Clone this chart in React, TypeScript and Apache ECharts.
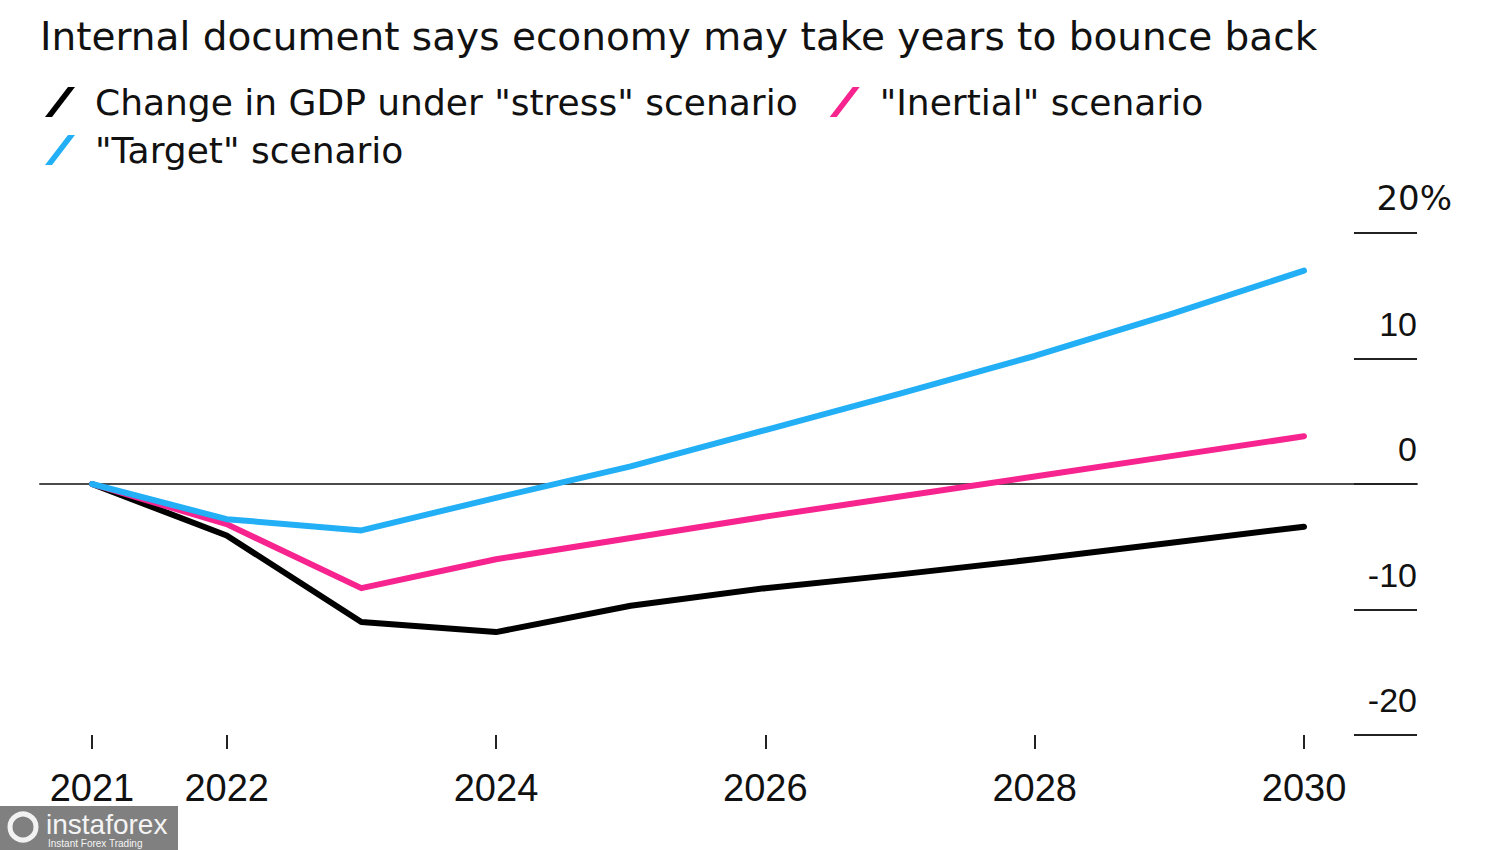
import React, { useEffect, useRef } from "react";
import * as echarts from "echarts";

const title = "Internal document says economy may take years to bounce back";
const years = [2021, 2022, 2023, 2024, 2025, 2026, 2027, 2028, 2029, 2030];
const stressValues = [0, -4.1, -11.0, -11.8, -9.7, -8.3, -7.2, -6.0, -4.7, -3.4];
const inertialValues = [0, -3.2, -8.3, -6.0, -4.3, -2.6, -1.0, 0.6, 2.2, 3.8];
const targetValues = [0, -2.8, -3.7, -1.1, 1.4, 4.3, 7.2, 10.2, 13.5, 17.0];
const xTickYears = [2021, 2022, 2024, 2026, 2028, 2030];
const seriesNames = [
  'Change in GDP under "stress" scenario',
  '"Inertial" scenario',
  '"Target" scenario',
];
const seriesColors = ["#000000", "#f7238f", "#22aff5"];

const FONT = "'Liberation Sans', Arial, Helvetica, sans-serif";
const WIDE = "'DejaVu Sans', 'Liberation Sans', sans-serif";
const SLASH = "path://M0,30 L23,0 L30,0 L7,30 Z";

export default function App() {
  const ref = useRef<HTMLDivElement>(null);
  useEffect(() => {
    if (!ref.current) return;
    const chart = echarts.init(ref.current, null, { renderer: "svg" });
    const pairs = (vals: number[]) => years.map((y, i) => [y, vals[i]]);
    const allValues = [stressValues, inertialValues, targetValues];
    const legendCommon = {
      left: 40,
      orient: "horizontal" as const,
      itemWidth: 36,
      itemHeight: 30,
      itemGap: 32,
      icon: SLASH,
      textStyle: {
        fontFamily: WIDE,
        fontSize: 36,
        color: "#111",
        padding: [0, 0, 0, 12],
      },
    };
    chart.setOption({
      animation: false,
      backgroundColor: "#ffffff",
      title: {
        text: title,
        left: 35,
        top: 12,
        textStyle: { fontFamily: WIDE, fontSize: 39, fontWeight: "normal", color: "#111" },
      },
      legend: [
        { ...legendCommon, top: 79, data: [seriesNames[0], seriesNames[1]] },
        { ...legendCommon, top: 127, data: [seriesNames[2]] },
      ],
      grid: { left: 40, right: 83, top: 233, bottom: 115 },
      xAxis: [
        {
          type: "value",
          min: 2020.614,
          max: 2030.839,
          axisLine: { show: true, onZero: true, lineStyle: { color: "#4a4a4a", width: 2 } },
          axisTick: { show: false },
          axisLabel: { show: false },
          splitLine: { show: false },
        },
        {
          type: "value",
          position: "bottom",
          min: 2020.614,
          max: 2030.839,
          axisLine: { show: false, onZero: false },
          axisTick: {
            show: true,
            length: 14,
            customValues: xTickYears,
            lineStyle: { color: "#222", width: 2 },
          },
          axisLabel: {
            show: true,
            customValues: xTickYears,
            margin: 38,
            fontFamily: FONT,
            fontSize: 38,
            lineHeight: 30,
            color: "#111",
            formatter: (v: number) => String(v),
          },
          splitLine: { show: false },
        },
      ],
      yAxis: {
        type: "value",
        position: "right",
        min: -20,
        max: 20,
        interval: 10,
        axisLine: { show: false },
        axisTick: { show: true, inside: true, length: 63, lineStyle: { color: "#222", width: 2 } },
        splitLine: { show: false },
        axisLabel: {
          show: true,
          align: "right",
          margin: 35,
          verticalAlign: "bottom",
          lineHeight: 70,
          fontFamily: FONT,
          fontSize: 34,
          color: "#111",
          formatter: (v: number) => (v === 20 ? "{t|20%}" : `{n|${v}}`),
          rich: {
            n: { fontFamily: FONT, fontSize: 34, color: "#111", padding: [0, 35, 0, 0], lineHeight: 70 },
            t: { fontFamily: WIDE, fontSize: 34, color: "#111", lineHeight: 70 },
          },
        },
      },
      series: seriesNames.map((name, i) => ({
        name,
        type: "line",
        xAxisIndex: 0,
        data: pairs(allValues[i]),
        showSymbol: false,
        symbol: "none",
        color: seriesColors[i],
        lineStyle: { width: 6, color: seriesColors[i], cap: "round", join: "round" },
        z: i === 0 ? 3 : i === 1 ? 4 : 5,
      })),
      graphic: [
        {
          type: "group",
          left: 0,
          top: 806,
          children: [
            { type: "rect", shape: { x: 0, y: 0, width: 178, height: 44 }, style: { fill: "#808080" } },
            { type: "circle", shape: { cx: 23, cy: 21, r: 13 }, style: { fill: "none", stroke: "#f2f2f2", lineWidth: 5 } },
            {
              type: "text",
              x: 46,
              y: 7,
              style: { text: "instaforex", fontFamily: FONT, fontSize: 28, lineHeight: 22, fill: "#f4f4f4" },
            },
            {
              type: "text",
              x: 48,
              y: 32,
              style: { text: "Instant Forex Trading", fontFamily: FONT, fontSize: 10, lineHeight: 10, fill: "#f4f4f4" },
            },
          ],
        },
      ],
    });
    return () => chart.dispose();
  }, []);
  return <div ref={ref} style={{ width: 1500, height: 850, position: "absolute", left: 0, top: 0 }} />;
}
